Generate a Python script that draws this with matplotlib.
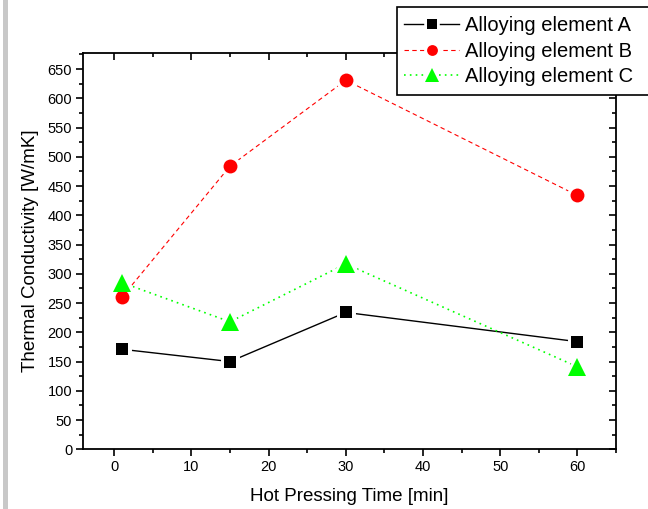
import matplotlib
matplotlib.use("Agg")
import matplotlib.pyplot as plt
from matplotlib.lines import Line2D
from matplotlib.patches import Rectangle
from matplotlib.ticker import MultipleLocator
from matplotlib.legend_handler import HandlerTuple

plt.rcParams['font.family'] = ['Liberation Sans', 'DejaVu Sans']

time_min = [1, 15, 30, 60]
elem_a = [171, 150, 234, 184]
elem_b = [260, 484, 631, 434]
elem_c = [285, 218, 317, 141]
labels = ["Alloying element A", "Alloying element B", "Alloying element C"]

W, H = 648, 509
fig = plt.figure(figsize=(W / 100, H / 100), dpi=100)
ax = fig.add_axes([83.3 / W, 1 - 449.3 / H, (616 - 83.3) / W, (449.3 - 52.7) / H])

series = [
    (elem_a, 'black', '-', 's', 9, 1.0),
    (elem_b, 'red', (0, (4, 3)), 'o', 10, 0.8),
    (elem_c, '#00ff00', (0, (1, 2.5)), '^', 12.5, 1.2),
]

handles = []
for (vals, col, ls, mk, ms, lw), lab in zip(series, labels):
    ax.plot(time_min, vals, color=col, linestyle=ls, linewidth=lw, zorder=2)
    # white halo to create gap around markers
    ax.plot(time_min, vals, linestyle='none', marker=mk, markersize=ms,
            markerfacecolor='white', markeredgecolor='white', markeredgewidth=5, zorder=3)
    lms = ms * 0.78
    h_line = Line2D([], [], color=col, linestyle=ls, linewidth=lw, marker=mk,
                    markersize=lms, markerfacecolor='white', markeredgecolor='white',
                    markeredgewidth=4)
    h_mark = Line2D([], [], linestyle='none', marker=mk, markersize=lms,
                    markerfacecolor=col, markeredgecolor=col, markeredgewidth=0)
    handles.append((h_line, h_mark))
for (vals, col, ls, mk, ms, lw) in series:
    ax.plot(time_min, vals, linestyle='none', marker=mk, markersize=ms,
            markerfacecolor=col, markeredgecolor=col, markeredgewidth=0, zorder=4)

ax.set_xlim(-4, 65)
ax.set_ylim(0, 678)
ax.xaxis.set_major_locator(MultipleLocator(10))
ax.xaxis.set_minor_locator(MultipleLocator(5))
ax.yaxis.set_major_locator(MultipleLocator(50))
ax.yaxis.set_minor_locator(MultipleLocator(25))

for sp in ax.spines.values():
    sp.set_linewidth(1.3)

ax.tick_params(axis='both', which='both', top=True, right=True, labelsize=10.5, width=1.2)
ax.tick_params(axis='both', which='major', length=5, pad=3)
ax.tick_params(axis='both', which='minor', length=3)
# outward ticks on left/bottom, inward on top/right
for tick in ax.xaxis.get_major_ticks() + ax.xaxis.get_minor_ticks():
    tick.tick1line.set_marker(matplotlib.lines.TICKDOWN)
    tick.tick2line.set_marker(matplotlib.lines.TICKDOWN)
for tick in ax.yaxis.get_major_ticks() + ax.yaxis.get_minor_ticks():
    tick.tick1line.set_marker(matplotlib.lines.TICKLEFT)
    tick.tick2line.set_marker(matplotlib.lines.TICKLEFT)

ax.set_xlabel("Hot Pressing Time [min]", fontsize=13.5, labelpad=10)
ax.set_ylabel("Thermal Conductivity [W/mK]", fontsize=13.5, labelpad=6)

# legend box (extends past the right edge of the figure)
fig.patches.append(Rectangle((396.7 / W, 1 - 95 / H), (660 - 396.7) / W, (95 - 7) / H,
                             transform=fig.transFigure, facecolor='white',
                             edgecolor='black', linewidth=1.2, zorder=5))
leg = fig.legend(handles, labels, loc='upper left',
                 handler_map={tuple: HandlerTuple(ndivide=1, pad=0)},
                 bbox_to_anchor=(404 / W, 1 - 16 / H),
                 bbox_transform=fig.transFigure,
                 fontsize=14.5, frameon=False, handlelength=2.75, handletextpad=0.3,
                 borderpad=0, labelspacing=0.33, borderaxespad=0)
leg.set_zorder(6)

# gray strip at left edge
fig.patches.append(Rectangle((3 / W, 0), 5 / W, 1, transform=fig.transFigure,
                             facecolor='#c8c8c8', edgecolor='none', zorder=0))

fig.savefig("out.png", dpi=100)
